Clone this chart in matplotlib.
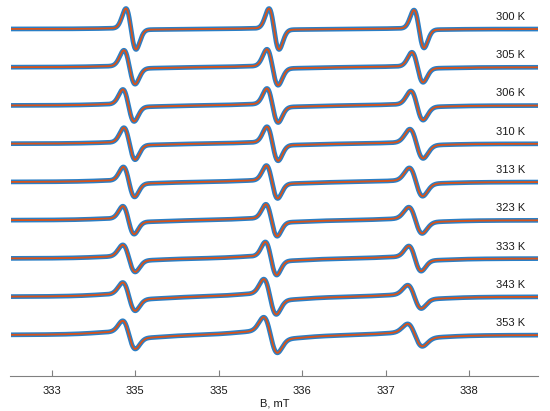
import matplotlib
matplotlib.use('Agg')
import matplotlib.pyplot as plt
import numpy as np

plt.rcParams['font.family'] = ['Liberation Sans', 'DejaVu Sans']

# temperatures and fitted line parameters
temps = ['300 K', '305 K', '306 K', '310 K', '313 K', '323 K', '333 K', '343 K', '353 K']

# line centres, mT
c1 = [333.952, 333.934, 333.922, 333.934, 333.928, 333.922, 333.928, 333.928, 333.928]
c2 = [335.665, 335.647, 335.647, 335.647, 335.641, 335.635, 335.629, 335.617, 335.623]
c3 = [337.401, 337.383, 337.377, 337.371, 337.365, 337.359, 337.353, 337.347, 337.353]

# peak-to-peak widths, mT
w1 = [0.120, 0.132, 0.132, 0.132, 0.132, 0.132, 0.144, 0.144, 0.144]
w2 = [0.120, 0.132, 0.132, 0.132, 0.132, 0.132, 0.132, 0.144, 0.156]
w3 = [0.120, 0.132, 0.144, 0.156, 0.156, 0.156, 0.144, 0.156, 0.168]

# amplitudes (arb. units, trace spacing = 38.25)
a1 = [20.2, 16.5, 15.4, 15.4, 14.3, 13.2, 12.6, 12.9, 12.6]
a2 = [20.2, 17.5, 16.4, 16.4, 15.7, 15.1, 15.5, 16.1, 15.8]
a3 = [18.7, 14.6, 14.0, 14.0, 13.4, 12.3, 11.7, 10.6, 9.9]

# share of the broad underlying component
broad = [0.03, 0.06, 0.08, 0.08, 0.10, 0.12, 0.14, 0.18, 0.22]
broad_w = 0.45

tick_vals = [333, 334, 335, 336, 337, 338]
tick_labels = ['333', '335', '335', '336', '337', '338']

x_min, x_max = 332.509, 338.826
first_base, spacing = 29, 38.25

BLUE = '#2a7fc6'
ORANGE = '#d95319'
GREY = '#808080'
TXT = '#1a1a1a'


def dgau(B, c, pp):
    # first derivative Gaussian, unit peak height
    u = (B - c) / (pp / 2)
    return -u * np.exp(-u**2 / 2) / 0.6065


def dlor(B, c, pp):
    # first derivative Lorentzian, unit peak height
    g = pp * np.sqrt(3) / 2
    u = (B - c) / g
    return -2 * u / (1 + u**2)**2 / 0.6495


fig = plt.figure(figsize=(5.5, 4.11), dpi=100)
ax = fig.add_axes([10.5/550, 1 - 376/411, (538 - 10.5)/550, 376/411])

B = np.linspace(x_min, x_max, 3000)
for i, t in enumerate(temps):
    base = -(first_base + spacing * i)
    y = np.zeros_like(B)
    for c, w, a in ((c1[i], w1[i], a1[i]), (c2[i], w2[i], a2[i]), (c3[i], w3[i], a3[i])):
        y += a * dgau(B, c, w) + broad[i] * a * dlor(B, c, broad_w)
    ax.plot(B, base + y, color=BLUE, lw=3.4, solid_capstyle='round')
    ax.plot(B, base + y, color=ORANGE, lw=1.3)
    ax.text(338.50, base + 12, t, ha='center', va='center', fontsize=8, color=TXT)

ax.set_xlim(x_min, x_max)
ax.set_ylim(-376, 0)
ax.set_xticks(tick_vals)
ax.set_xticklabels(tick_labels)
ax.set_yticks([])
for s in ['left', 'right', 'top']:
    ax.spines[s].set_visible(False)
ax.spines['bottom'].set_color(GREY)
ax.spines['bottom'].set_linewidth(0.8)
ax.tick_params(axis='x', direction='in', length=4, width=0.8, color=GREY,
               labelsize=8, labelcolor=TXT, pad=7)
ax.set_xlabel('B, mT', fontsize=8, color=TXT, labelpad=2)

fig.savefig('out.png', dpi=100, facecolor='white')
